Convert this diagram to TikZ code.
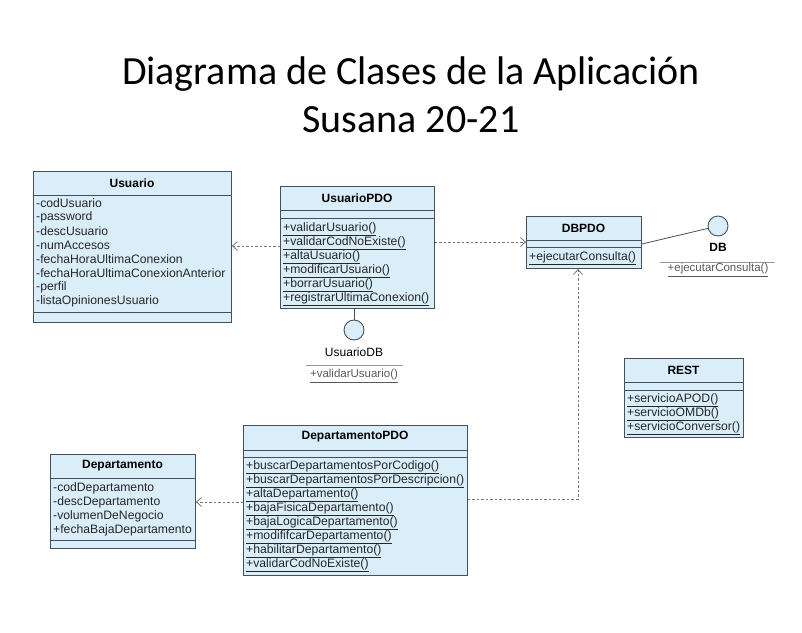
\documentclass[tikz,border=0pt]{standalone}
\usepackage{fontspec}
\setmainfont{Liberation Sans}
\newfontfamily\titlefont{Carlito}
\usetikzlibrary{arrows.meta}
\definecolor{boxfill}{RGB}{218,238,250}
\definecolor{boxdraw}{RGB}{70,80,90}
\definecolor{depcol}{RGB}{120,120,120}
\definecolor{lolli}{RGB}{150,150,150}
\tikzset{
 classbox/.style={draw=boxdraw, fill=boxfill, line width=0.9pt, inner sep=0, anchor=north west},
 sepline/.style={draw=boxdraw, line width=0.9pt},
 hdr/.style={font=\bfseries\fontsize{12}{14}\selectfont, inner sep=0},
 mem/.style={anchor=west, inner sep=0, font=\fontsize{12.2}{14}\selectfont, text=black!85},
 depend/.style={draw=depcol, line width=0.8pt, dash pattern=on 2.5pt off 2pt, -{Straight Barb[length=5pt,width=9pt]}},
 ifcircle/.style={circle, draw=boxdraw, fill=boxfill, line width=0.9pt, minimum size=20pt, inner sep=0},
 titletext/.style={font=\titlefont\fontsize{40}{48}\selectfont, inner sep=0},
}
\begin{document}
\begin{tikzpicture}[x=1pt,y=-1pt]
\useasboundingbox (0,0) rectangle (802,632);
% title
\node[titletext] (title1) at (411,74) {Diagrama de Clases de la Aplicación};
\node[titletext] (title2) at (411,120) {Susana 20-21};

% Usuario
\node[classbox, minimum width=198pt, minimum height=151pt] (usuario) at (33,171) {};
\node[hdr] (usuario-h) at (132,183) {Usuario};
\draw[sepline] (33,195) -- (231,195);
\draw[sepline] (33,312) -- (231,312);
\foreach \t [count=\i] in {-codUsuario,-password,-descUsuario,-numAccesos,-fechaHoraUltimaConexion,-fechaHoraUltimaConexionAnterior,-perfil,-listaOpinionesUsuario}
  \node[mem] (usuario-m\i) at (36,{189+14*\i}) {\t};

% UsuarioPDO
\node[classbox, minimum width=154pt, minimum height=122pt] (usuariopdo) at (280,186) {};
\node[hdr] (usuariopdo-h) at (357,198) {UsuarioPDO};
\draw[sepline] (280,210) -- (434,210);
\draw[sepline] (280,218) -- (434,218);
\foreach \t [count=\i] in {validarUsuario(),validarCodNoExiste(),altaUsuario(),modificarUsuario(),borrarUsuario(),registrarUltimaConexion()}
  \node[mem] (usuariopdo-m\i) at (283,{215+14*\i}) {\underline{+\t}};

% UsuarioDB interface
\node[ifcircle] (usuariodb) at (354,330) {};
\draw[boxdraw, line width=0.8pt] (usuariopdo.south -| usuariodb.north) -- (usuariodb.north);
\node[inner sep=0, font=\fontsize{12}{14}\selectfont] (usuariodb-l) at (354,352) {UsuarioDB};
\draw[lolli, line width=0.6pt] (306,365) -- (403,365);
\node[inner sep=0, font=\fontsize{11.5}{14}\selectfont, text=black!65] (usuariodb-m) at (354,376) {\underline{+validarUsuario()}};

% DBPDO
\node[classbox, minimum width=115pt, minimum height=52pt] (dbpdo) at (526,216) {};
\node[hdr] (dbpdo-h) at (583.5,228) {DBPDO};
\draw[sepline] (526,240) -- (641,240);
\draw[sepline] (526,247) -- (641,247);
\node[mem] (dbpdo-m1) at (529,258) {\underline{+ejecutarConsulta()}};

% DB interface
\node[ifcircle] (db) at (718,226) {};
\draw[boxdraw, line width=0.8pt] (dbpdo.east |- 0,244) -- (db);
\node[hdr] (db-l) at (718,247) {DB};
\draw[lolli, line width=0.6pt] (660,262) -- (775,262);
\node[inner sep=0, font=\fontsize{11.5}{14}\selectfont, text=black!65] (db-m) at (718,270) {\underline{+ejecutarConsulta()}};

% REST
\node[classbox, minimum width=119pt, minimum height=79pt] (rest) at (624,358) {};
\node[hdr] (rest-h) at (683.5,370) {REST};
\draw[sepline] (624,382) -- (743,382);
\draw[sepline] (624,390) -- (743,390);
\foreach \t [count=\i] in {servicioAPOD(),servicioOMDb(),servicioConversor()}
  \node[mem] (rest-m\i) at (627,{386+14*\i}) {\underline{+\t}};

% DepartamentoPDO
\node[classbox, minimum width=224pt, minimum height=150pt] (deptopdo) at (243,425) {};
\node[hdr] (deptopdo-h) at (355,437) {DepartamentoPDO};
\draw[sepline] (243,450) -- (467,450);
\draw[sepline] (243,457) -- (467,457);
\foreach \t [count=\i] in {buscarDepartamentosPorCodigo(),buscarDepartamentosPorDescripcion(),altaDepartamento(),bajaFisicaDepartamento(),bajaLogicaDepartamento(),modififcarDepartamento(),habilitarDepartamento(),validarCodNoExiste()}
  \node[mem] (deptopdo-m\i) at (246,{453+14*\i}) {\underline{+\t}};

% Departamento
\node[classbox, minimum width=145pt, minimum height=94pt] (depto) at (50,454) {};
\node[hdr] (depto-h) at (122.5,466) {Departamento};
\draw[sepline] (50,478) -- (195,478);
\draw[sepline] (50,540) -- (195,540);
\foreach \t [count=\i] in {-codDepartamento,-descDepartamento,-volumenDeNegocio,+fechaBajaDepartamento}
  \node[mem] (depto-m\i) at (53,{474+14*\i}) {\t};

% dependencies
\draw[depend] (usuariopdo.west |- 0,246) -- (usuario.east |- 0,246);
\draw[depend] (usuariopdo.east |- 0,242) -- (dbpdo.west |- 0,242);
\draw[depend] (deptopdo.west |- 0,502) -- (depto.east |- 0,502);
\draw[depend] (deptopdo.east |- 0,499) -| (dbpdo.south -| 578,0);
\end{tikzpicture}
\end{document}
